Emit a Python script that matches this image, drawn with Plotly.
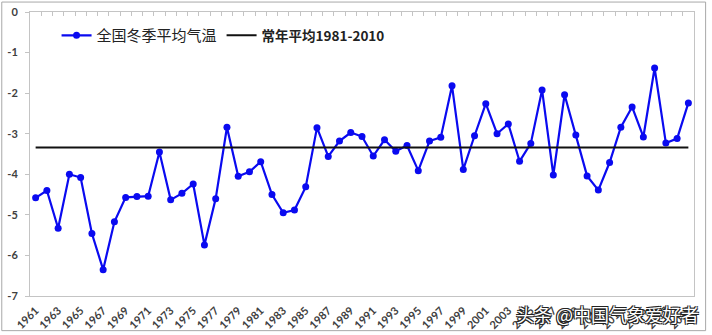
import plotly.graph_objects as go

years = list(range(1961, 2020))
winter_temp = [
    -4.58, -4.40, -5.33, -4.00, -4.08, -5.46, -6.35, -5.17, -4.57, -4.55,
    -4.54, -3.45, -4.63, -4.47, -4.24, -5.74, -4.60, -2.84, -4.05, -3.94,
    -3.69, -4.50, -4.95, -4.88, -4.31, -2.85, -3.56, -3.18, -2.97, -3.07,
    -3.55, -3.15, -3.43, -3.29, -3.91, -3.18, -3.09, -1.82, -3.88, -3.05,
    -2.26, -3.00, -2.76, -3.68, -3.24, -1.92, -4.02, -2.04, -3.03, -4.04,
    -4.39, -3.71, -2.84, -2.34, -3.08, -1.38, -3.23, -3.12, -2.24,
]
normal_value = -3.34
normal_series = [normal_value] * len(years)
x_tick_years = list(range(1961, 2020, 2))
x_tick_text = [str(y) for y in x_tick_years]
y_ticks = [0, -1, -2, -3, -4, -5, -6, -7]
y_tick_text = [str(v) for v in y_ticks]

series_name = "全国冬季平均气温"
normal_name = '<span style="font-size:13.5px"><b>常年平均1981-2010</b></span>'
watermark = "头条 @中国气象爱好者"

fig = go.Figure()
fig.add_trace(go.Scatter(
    x=years, y=winter_temp, name=series_name, mode="lines+markers",
    line=dict(color="#0a0af0", width=2.2), marker=dict(color="#0a0af0", size=7),
))
fig.add_trace(go.Scatter(
    x=years, y=normal_series, name=normal_name, mode="lines",
    line=dict(color="#111111", width=2),
))

axis_gray = "#c4c4c4"
tick_font = dict(family="Lato, 'Liberation Sans', sans-serif", size=11, color="#404040", weight="bold")

fig.update_layout(
    width=712, height=335,
    margin=dict(l=30, r=18, t=12, b=39, autoexpand=False),
    paper_bgcolor="white", plot_bgcolor="white",
    showlegend=True,
    legend=dict(
        orientation="h", x=0.04, y=0.975, xanchor="left", yanchor="top",
        bgcolor="rgba(0,0,0,0)",
        font=dict(family="'Noto Sans CJK SC', sans-serif", size=15, color="#222222"),
        itemwidth=30, tracegroupgap=0,
    ),
    xaxis=dict(
        range=[1960.5, 2019.5], tickmode="array", tickvals=x_tick_years, ticktext=x_tick_text,
        tickangle=-45, tickfont=dict(family="Lato, 'Liberation Sans', sans-serif", size=11, color="#404040", weight="bold"),
        ticklabelstandoff=3, automargin=False,
        showgrid=False, zeroline=False, showline=True, linecolor=axis_gray, linewidth=1,
        mirror=True, ticks="", ticklen=0,
    ),
    xaxis2=dict(
        overlaying="x", side="top", range=[1960.5, 2019.5], tick0=1960.5, dtick=1,
        ticks="inside", ticklen=4, tickcolor=axis_gray, showticklabels=False,
        showgrid=False, zeroline=False, showline=False, automargin=False,
    ),
    yaxis=dict(
        range=[-7, 0], tickmode="array", tickvals=y_ticks, ticktext=y_tick_text,
        tickfont=tick_font, ticks="outside", ticklen=4, tickcolor=axis_gray,
        ticklabelstandoff=5, automargin=False,
        showgrid=False, zeroline=False, showline=True, linecolor=axis_gray, linewidth=1,
        mirror=True,
    ),
)

# invisible helper trace so the top tick axis is drawn
fig.add_trace(go.Scatter(x=[1960.5], y=[0], xaxis="x2", mode="markers",
                         marker=dict(opacity=0), showlegend=False, hoverinfo="skip"))

fig.add_shape(type="rect", xref="paper", yref="paper",
              x0=-0.0425, x1=1.0175, y0=-0.122, y1=1.035,
              line=dict(color="#a8a8a8", width=1), fillcolor="rgba(0,0,0,0)", layer="below")

fig.add_annotation(
    text=watermark, xref="paper", yref="paper", x=1.01, y=-0.065,
    xanchor="right", yanchor="middle", showarrow=False,
    font=dict(family="'Noto Sans CJK SC', sans-serif", size=18, color="white",
              shadow="-1px -1px 0 #222, 1px -1px 0 #222, -1px 1px 0 #222, 1px 1px 0 #222"),
)

fig.write_html("out.html")
